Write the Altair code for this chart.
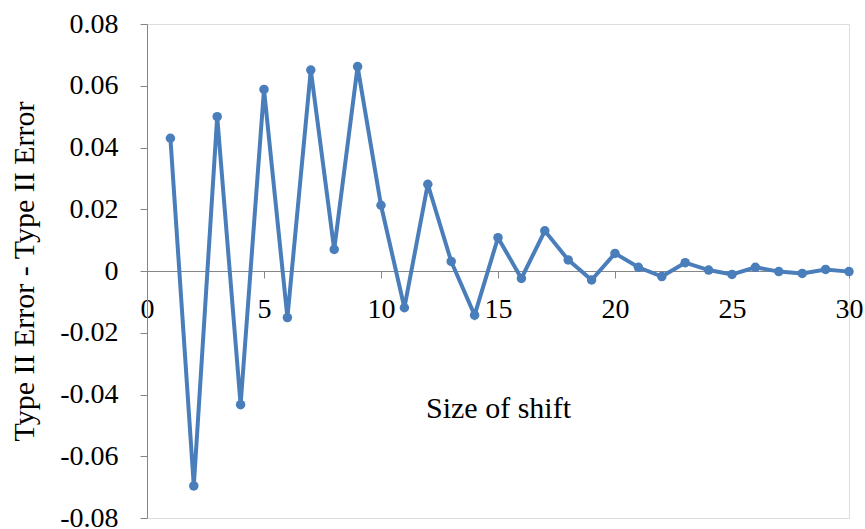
import altair as alt
import pandas as pd

# Difference in Type II error by size of shift
shift = list(range(1, 31))
diff = [0.0430, -0.0696, 0.0500, -0.0433, 0.0588, -0.0151, 0.0651, 0.0070,
        0.0662, 0.0213, -0.0119, 0.0281, 0.0031, -0.0143, 0.0108, -0.0024,
        0.0130, 0.0036, -0.0029, 0.0057, 0.0012, -0.0018, 0.0027, 0.0003,
        -0.0011, 0.0012, -0.0002, -0.0008, 0.0005, -0.0002]

x_ticks = [0, 5, 10, 15, 20, 25, 30]
y_ticks = [-0.08, -0.06, -0.04, -0.02, 0, 0.02, 0.04, 0.06, 0.08]

df = pd.DataFrame({"shift": shift, "diff": diff})

W, H = 702, 494
FONT = "Liberation Serif"
GREY = "#868686"
BLUE = "#4a7ebb"

x_enc = alt.X(
    "shift:Q",
    scale=alt.Scale(domain=[0, 30], nice=False, zero=False),
    axis=alt.Axis(
        title="Size of shift",
        values=x_ticks,
        offset=-(H / 2),          # place the axis on the zero line
        grid=False,
        domainColor=GREY,
        tickColor=GREY,
        tickSize=7,
        labelPadding=17,
        labelFontSize=28,
        labelColor="black",
        labelOverlap=False,
        labelFlush=False,
        titleFontSize=30,
        titleFontWeight="normal",
        titleColor="black",
        titleBaseline="alphabetic",
        titleY=146,
    ),
)

y_enc = alt.Y(
    "diff:Q",
    scale=alt.Scale(domain=[-0.08, 0.08], nice=False, zero=False),
    axis=alt.Axis(
        title="Type II Error - Type II Error",
        values=y_ticks,
        labelExpr="datum.value == 0 ? '0' : (datum.value < 0 ? '-' : '') + format(abs(datum.value), '.2f')",
        grid=False,
        domainColor=GREY,
        tickColor=GREY,
        tickSize=7,
        labelPadding=22,
        labelFontSize=28,
        labelColor="black",
        labelOverlap=False,
        labelFlush=False,
        titleFontSize=30,
        titleFontWeight="normal",
        titleColor="black",
        titleBaseline="alphabetic",
        titleAlign="center",
        titleX=-114,
        titleY=H / 2,
    ),
)

line = alt.Chart(df).mark_line(
    color=BLUE, strokeWidth=4,
    point=alt.OverlayMarkDef(filled=True, color=BLUE, size=90, opacity=1),
).encode(x=x_enc, y=y_enc)

chart = line.properties(
    width=W,
    height=H,
    autosize=alt.AutoSizeParams(type="none"),
    padding={"left": 147, "top": 24, "right": 16, "bottom": 11},
).configure_view(stroke=None).configure(font=FONT, background="white")

chart.save("out.html", embed_options={"renderer": "svg", "actions": False})
